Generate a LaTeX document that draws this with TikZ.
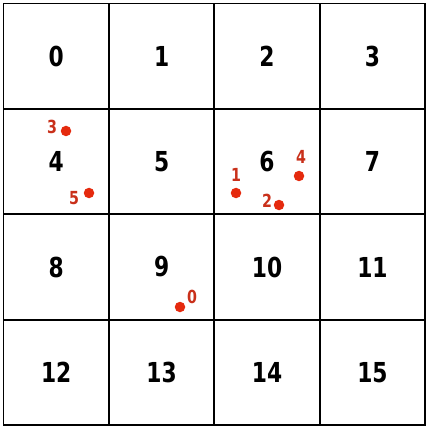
\documentclass[tikz,border=0pt]{standalone}
\usepackage{fontspec}
\setmainfont{DejaVu Sans Condensed}[FakeStretch=0.88]
\usetikzlibrary{positioning}
\definecolor{dot_red}{HTML}{E52A0E}
\definecolor{label_red}{HTML}{C9301A}

\begin{document}
\begin{tikzpicture}[
    % --- Global Settings ---
    % One unit is one point, y runs downwards like the image
    x=1pt, y=-1pt,
    every node/.style={font=\bfseries}
  ]

  % --- Style Definitions ---
  \tikzset{
    % Style for the grid cells (square, thick border, big number)
    cell/.style={
      draw=black,
      line width=1.7pt,
      minimum size=105.4pt,
      inner sep=0pt,
      font=\bfseries\fontsize{27.5}{27.5}\selectfont
    },
    % Style for the red points
    point/.style={
      circle,
      fill=dot_red,
      minimum size=10.5pt,
      inner sep=0pt
    },
    % Style for the point labels
    tag/.style={
      text=label_red,
      inner sep=0pt,
      font=\bfseries\fontsize{18}{18}\selectfont
    }
  }

  \useasboundingbox (0,0) rectangle (430,430);

  % --- Grid of cells ---
  \foreach \row in {0,...,3} {
    \foreach \col in {0,...,3} {
      \pgfmathtruncatemacro{\idx}{4*\row+\col}
      \node[cell] (cell\idx) at ({56.2+105.4*\col}, {56.2+105.4*\row}) {\idx};
    }
  }

  % --- Points ---
  \node[point] (p0) at (180, 307) {};
  \node[point] (p1) at (236, 193) {};
  \node[point] (p2) at (279, 205) {};
  \node[point] (p3) at (66, 131) {};
  \node[point] (p4) at (299, 176) {};
  \node[point] (p5) at (89, 193) {};

  % --- Point labels ---
  \node[tag] (t0) at (192, 297) {0};
  \node[tag] (t1) at (236, 175) {1};
  \node[tag] (t2) at (267, 201) {2};
  \node[tag] (t3) at (52, 127) {3};
  \node[tag] (t4) at (301, 157) {4};
  \node[tag] (t5) at (74, 198) {5};

\end{tikzpicture}
\end{document}
